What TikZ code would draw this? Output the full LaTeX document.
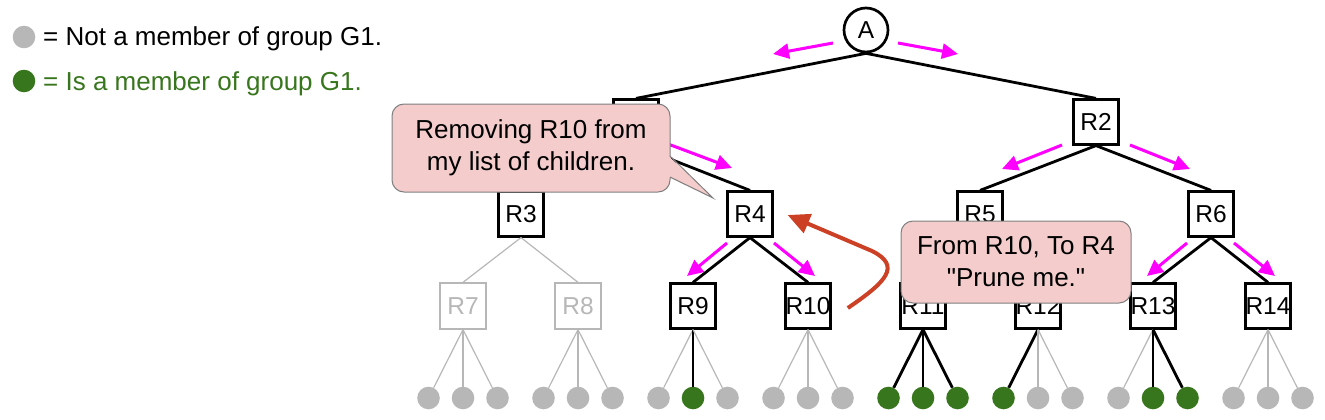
\documentclass[tikz,border=0pt]{standalone}
\usepackage{fontspec}
\setmainfont{Liberation Sans}[Ligatures=TeXOff]
\usetikzlibrary{arrows.meta,calc}
\definecolor{leafgray}{HTML}{B7B7B7}
\definecolor{leafgreen}{HTML}{38761D}
\definecolor{callfill}{HTML}{F4CCCC}
\definecolor{callline}{HTML}{7F7F7F}
\definecolor{redarr}{HTML}{CC4125}
\definecolor{mag}{HTML}{FF00FF}
\begin{document}
\begin{tikzpicture}[x=1pt,y=-1pt,
  rbox/.style={draw=black,line width=2.7pt,fill=white,minimum size=44.5pt,inner sep=0pt,font=\fontsize{24.5}{28}\selectfont},
  gbox/.style={draw=leafgray,line width=1.3pt,fill=white,minimum size=46pt,inner sep=0pt,text=leafgray,font=\fontsize{24.5}{28}\selectfont},
  rootnode/.style={circle,draw=black,line width=2.7pt,fill=white,minimum size=44pt,inner sep=0pt,font=\fontsize{24.5}{28}\selectfont},
  leaf0/.style={circle,fill=leafgray,minimum size=22.6pt,inner sep=0pt},
  leaf1/.style={circle,fill=leafgreen,minimum size=22.6pt,inner sep=0pt},
  ledge0/.style={draw=leafgray,line width=1.2pt},
  ledge1/.style={draw=black,line width=2.8pt},
  tedge/.style={draw=black,line width=2.8pt},
  gedge/.style={draw=leafgray,line width=1.2pt},
  magarrow/.style={draw=mag,line width=3pt,-{Triangle[length=16pt,width=15pt]}},
  redarrow/.style={draw=redarr,line width=4pt,-{Triangle[length=22pt,width=20pt]}},
  callout/.style={draw=callline,line width=1pt,fill=callfill,rounded corners=12pt,align=center,inner sep=0pt,font=\fontsize{26}{32}\selectfont},
  legtext/.style={anchor=base west,inner sep=0pt,font=\fontsize{26}{30}\selectfont}
]
\useasboundingbox (0,0) rectangle (1325,420);

% legend
\node[leaf0] (legg) at (24,37) {};
\node[leaf1] (legG) at (24,81) {};
\node[legtext] (legt1) at (43,46) {= Not a member of group G1.};
\node[legtext,text=leafgreen] (legt2) at (43,90) {= Is a member of group G1.};

% tree nodes
\node[rootnode] (A) at (866,30) {A};
\node[rbox] (R1) at (636,122) {R1};
\node[rbox] (R2) at (1096,122) {R2};
\node[rbox] (R3) at (521,214) {R3};
\node[rbox] (R4) at (750,214) {R4};
\node[rbox] (R5) at (980,214) {R5};
\node[rbox] (R6) at (1211,214) {R6};
\node[gbox] (R7) at (463,306) {R7};
\node[gbox] (R8) at (578,306) {R8};
\node[rbox] (R9) at (693,306) {R9};
\node[rbox] (R10) at (808,306) {R10};
\node[rbox] (R11) at (923,306) {R11};
\node[rbox] (R12) at (1038,306) {R12};
\node[rbox] (R13) at (1153,306) {R13};
\node[rbox] (R14) at (1268,306) {R14};

% tree edges
\draw[tedge] (A.south) -- (R1.north);
\draw[tedge] (A.south) -- (R2.north);
\draw[tedge] (R1.south) -- (R3.north);
\draw[tedge] (R1.south) -- (R4.north);
\draw[tedge] (R2.south) -- (R5.north);
\draw[tedge] (R2.south) -- (R6.north);
\draw[gedge] (R3.south) -- (R7.north);
\draw[gedge] (R3.south) -- (R8.north);
\draw[tedge] (R4.south) -- (R9.north);
\draw[tedge] (R4.south) -- (R10.north);
\draw[tedge] (R5.south) -- (R11.north);
\draw[tedge] (R5.south) -- (R12.north);
\draw[tedge] (R6.south) -- (R13.north);
\draw[tedge] (R6.south) -- (R14.north);

% leaves
\foreach \p/\x/\ca/\cb/\cc in {7/463/0/0/0,8/578/0/0/0,9/693/0/1/0,10/808/0/0/0,11/923/1/1/1,12/1038/1/0/0,13/1153/0/1/1,14/1268/0/0/0}{
  \node[leaf\ca] (l\p a) at (\x-34.5,398) {};
  \node[leaf\cb] (l\p b) at (\x,398) {};
  \node[leaf\cc] (l\p c) at (\x+34.5,398) {};
  \draw[ledge\ca] (R\p.south) -- (l\p a);
  \draw[ledge\cb] (R\p.south) -- (l\p b);
  \draw[ledge\cc] (R\p.south) -- (l\p c);
}

% magenta arrows
\coordinate (mA1s) at (833,43);  \coordinate (mA1e) at (773,54);
\coordinate (mA2s) at (898,43);  \coordinate (mA2e) at (958,54);
\coordinate (m14s) at (660,141); \coordinate (m14e) at (732,168);
\coordinate (m25s) at (1062,145); \coordinate (m25e) at (1002,169);
\coordinate (m26s) at (1130,145); \coordinate (m26e) at (1190,169);
\coordinate (m49s) at (727,243); \coordinate (m49e) at (687,276);
\coordinate (m410s) at (774,243); \coordinate (m410e) at (815,276);
\coordinate (m613s) at (1187,243); \coordinate (m613e) at (1147,276);
\coordinate (m614s) at (1234,243); \coordinate (m614e) at (1275,276);
\draw[magarrow] (mA1s) -- (mA1e);
\draw[magarrow] (mA2s) -- (mA2e);
\draw[magarrow] (m14s) -- (m14e);
\draw[magarrow] (m25s) -- (m25e);
\draw[magarrow] (m26s) -- (m26e);
\draw[magarrow] (m49s) -- (m49e);
\draw[magarrow] (m410s) -- (m410e);
\draw[magarrow] (m613s) -- (m613e);
\draw[magarrow] (m614s) -- (m614e);

% red arrow from R10 to R4
\coordinate (rs) at ($(R10.east)+(16,2)$);
\coordinate (re) at ($(R4.east)+(14,1)$);
\draw[redarrow] (rs) .. controls (886,282) and (902,266) .. (872,251) -- (re);

% callouts
\node[callout,minimum width=278pt,minimum height=88pt] (c1) at (531,148) {Removing R10 from\\my list of children.};
\coordinate (p1a) at (670,156);
\coordinate (p1t) at (713,198);
\coordinate (p1b) at (670,177);
\fill[callfill] ($(p1a)+(-1.5,0)$) -- (p1t) -- ($(p1b)+(-1.5,0)$) -- cycle;
\draw[callline,line width=1pt] (p1a) -- (p1t) -- (p1b);

\node[callout,minimum width=230pt,minimum height=82pt] (c2) at (1016,262) {From R10, To R4\\"Prune me."};
\end{tikzpicture}
\end{document}
